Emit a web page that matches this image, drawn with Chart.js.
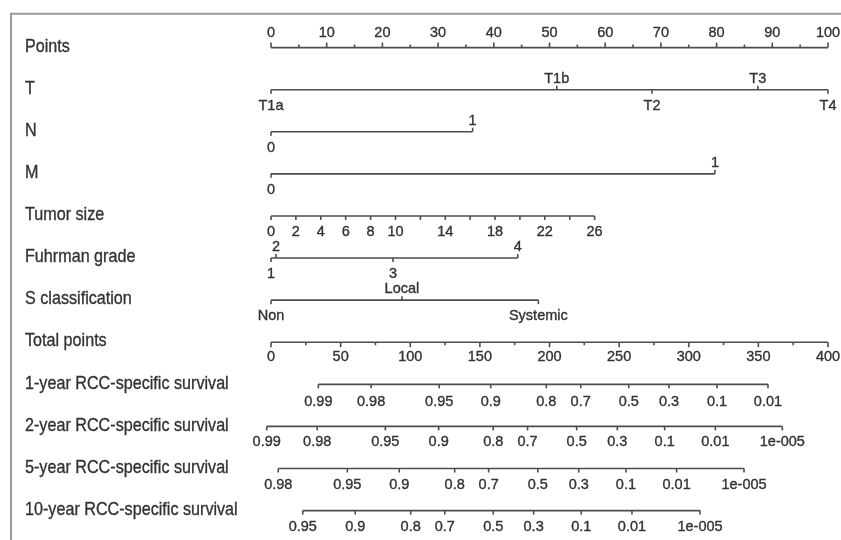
<!DOCTYPE html>
<html>
<head>
<meta charset="utf-8">
<script src="https://cdn.jsdelivr.net/npm/chart.js@4.4.1/dist/chart.umd.min.js"></script>
<style>
  html, body { margin: 0; padding: 0; background: #fff; }
  #wrap { width: 841px; height: 540px; }
</style>
</head>
<body>
<div id="wrap"><canvas id="nomogram" width="841" height="540"></canvas></div>
<script>
// row titles, top to bottom
const rowNames = ['Points', 'T', 'N', 'M', 'Tumor size', 'Fuhrman grade', 'S classification',
  'Total points', '1-year RCC-specific survival', '2-year RCC-specific survival',
  '5-year RCC-specific survival', '10-year RCC-specific survival'];

// points scale
const pointsTicks = [0, 10, 20, 30, 40, 50, 60, 70, 80, 90, 100];
const pointsMinor = [5, 15, 25, 35, 45, 55, 65, 75, 85, 95];

// predictors (value labels and their points)
const tLabels = ['T1a', 'T1b', 'T2', 'T3', 'T4'];
const tPoints = [0, 51.3, 68.4, 87.4, 100];
const nLabels = ['0', '1'];
const nPoints = [0, 36.2];
const mLabels = ['0', '1'];
const mPoints = [0, 79.7];
const sizeTicks = [0, 2, 4, 6, 8, 10, 12, 14, 16, 18, 20, 22, 24, 26];
const sizeLabels = [0, 2, 4, 6, 8, 10, 14, 18, 22, 26];
const sizePoints26 = 58.1; // points for 26 cm
const gradeLabels = ['1', '2', '3', '4'];
const gradePoints = [0, 0.9, 21.9, 44.3];
const sLabels = ['Non', 'Local', 'Systemic'];
const sPoints = [0, 23.5, 48.0];

// total points scale
const totalTicks = [0, 50, 100, 150, 200, 250, 300, 350, 400];
const totalMinor = [25, 75, 125, 175, 225, 275, 325, 375];

// survival probabilities and their total points
const surv1Labels = ['0.99', '0.98', '0.95', '0.9', '0.8', '0.7', '0.5', '0.3', '0.1', '0.01'];
const surv1Total = [34.0, 71.9, 120.8, 157.8, 197.7, 222.4, 256.9, 285.8, 320.3, 356.9];
const surv2Labels = ['0.99', '0.98', '0.95', '0.9', '0.8', '0.7', '0.5', '0.3', '0.1', '0.01', '1e-005'];
const surv2Total = [-3.1, 33.2, 82.1, 120.4, 159.6, 184.2, 219.5, 248.7, 282.7, 319.1, 367.2];
const surv5Labels = ['0.98', '0.95', '0.9', '0.8', '0.7', '0.5', '0.3', '0.1', '0.01', '1e-005'];
const surv5Total = [5.2, 54.8, 92.1, 131.9, 156.3, 191.6, 221.0, 254.9, 291.3, 339.7];
const surv10Labels = ['0.95', '0.9', '0.8', '0.7', '0.5', '0.3', '0.1', '0.01', '1e-005'];
const surv10Total = [22.8, 60.5, 100.3, 124.8, 159.6, 188.6, 222.8, 259.2, 308.1];

const INK = '#34322f';
const LINE = '#4d4d4d';
const rowFont = '19px "Liberation Sans", Arial, sans-serif';
const tickFont = '14.5px "Liberation Sans", Arial, sans-serif';
const NARROW = 0.85; // horizontal squeeze to mimic the condensed face

const pair = (labels, vals) => labels.map((l, i) => ({ v: vals[i], label: l }));

const rows = [
  { scale: 'x', mode: 'above', ticks: pair(pointsTicks.map(String), pointsTicks), minor: pointsMinor },
  { scale: 'x', mode: 'cat', ticks: pair(tLabels, tPoints) },
  { scale: 'x', mode: 'cat', ticks: pair(nLabels, nPoints) },
  { scale: 'x', mode: 'cat', ticks: pair(mLabels, mPoints) },
  { scale: 'x', mode: 'below', ticks: sizeTicks.map(c => ({
      v: c * sizePoints26 / 26, label: sizeLabels.includes(c) ? String(c) : '' })) },
  { scale: 'x', mode: 'cat', ticks: pair(gradeLabels, gradePoints) },
  { scale: 'x', mode: 'cat', ticks: pair(sLabels, sPoints) },
  { scale: 'xt', mode: 'below', ticks: pair(totalTicks.map(String), totalTicks), minor: totalMinor, gap: 15 },
  { scale: 'xt', mode: 'below', ticks: pair(surv1Labels, surv1Total), gap: 18 },
  { scale: 'xt', mode: 'below', ticks: pair(surv2Labels, surv2Total) },
  { scale: 'xt', mode: 'below', ticks: pair(surv5Labels, surv5Total) },
  { scale: 'xt', mode: 'below', ticks: pair(surv10Labels, surv10Total) }
];

const datasets = rows.map((r, i) => {
  const vs = r.ticks.map(t => t.v);
  return {
    label: rowNames[i],
    xAxisID: r.scale,
    yAxisID: 'y',
    data: [{ x: Math.min(...vs), y: i }, { x: Math.max(...vs), y: i }],
    borderColor: LINE,
    borderWidth: 1.6,
    pointRadius: 0,
    clip: false
  };
});

// slightly heavier text, like the scanned figure
function inkText(ctx, s, x, y) {
  ctx.lineWidth = 0.35;
  ctx.strokeStyle = INK;
  ctx.strokeText(s, x, y);
  ctx.fillText(s, x, y);
}

const nomogramPlugin = {
  id: 'nomogram',
  beforeDraw(chart) {
    const ctx = chart.ctx;
    ctx.save();
    ctx.fillStyle = '#fff';
    ctx.fillRect(0, 0, chart.width, chart.height);
    ctx.strokeStyle = '#9c9c9c';
    ctx.lineWidth = 2;
    ctx.beginPath();
    ctx.moveTo(chart.width, 13.8);
    ctx.lineTo(11, 13.8);
    ctx.lineTo(11, chart.height);
    ctx.stroke();
    ctx.restore();
  },
  afterDatasetsDraw(chart) {
    const ctx = chart.ctx;
    const yS = chart.scales.y;
    ctx.save();
    ctx.fillStyle = INK;
    rows.forEach((r, i) => {
      const y = yS.getPixelForValue(i);
      const xS = chart.scales[r.scale];
      // row title, squeezed sideways
      ctx.save();
      ctx.font = rowFont;
      ctx.textAlign = 'left';
      ctx.textBaseline = 'middle';
      ctx.translate(25, y - 1);
      ctx.scale(NARROW, 1);
      inkText(ctx, rowNames[i], 0, 0);
      ctx.restore();

      ctx.font = tickFont;
      ctx.textAlign = 'center';
      ctx.textBaseline = 'middle';
      ctx.strokeStyle = LINE;
      ctx.lineWidth = 1.6;
      const dir = r.mode === 'above' ? -1 : 1;
      (r.minor || []).forEach(v => {
        const x = xS.getPixelForValue(v);
        ctx.beginPath(); ctx.moveTo(x, y); ctx.lineTo(x, y + dir * 3); ctx.stroke();
      });
      r.ticks.forEach((t, k) => {
        const x = xS.getPixelForValue(t.v);
        let up;
        if (r.mode === 'above') up = true;
        else if (r.mode === 'below') up = false;
        else up = k % 2 === 1;
        const len = r.minor ? 5 : 4;
        ctx.strokeStyle = LINE;
        ctx.lineWidth = 1.6;
        ctx.beginPath();
        ctx.moveTo(x, y);
        ctx.lineTo(x, up ? y - len : y + len);
        ctx.stroke();
        if (!t.label) return;
        let ly;
        if (r.mode === 'above') ly = y - 15;
        else if (up) ly = y - 11;
        else ly = y + (r.gap || 16);
        inkText(ctx, t.label, x, ly);
      });
    });
    ctx.restore();
  }
};

new Chart(document.getElementById('nomogram'), {
  type: 'line',
  data: { datasets },
  options: {
    responsive: false,
    devicePixelRatio: 1,
    animation: false,
    events: [],
    layout: { padding: { left: 271, right: 13, top: 47.6, bottom: 29.4 } },
    scales: {
      x: { type: 'linear', min: 0, max: 100, display: false },
      xt: { type: 'linear', axis: 'x', min: 0, max: 400, display: false },
      y: { type: 'linear', min: 0, max: 11, reverse: true, display: false }
    },
    plugins: { legend: { display: false }, tooltip: { enabled: false } }
  },
  plugins: [nomogramPlugin]
});
</script>
</body>
</html>
